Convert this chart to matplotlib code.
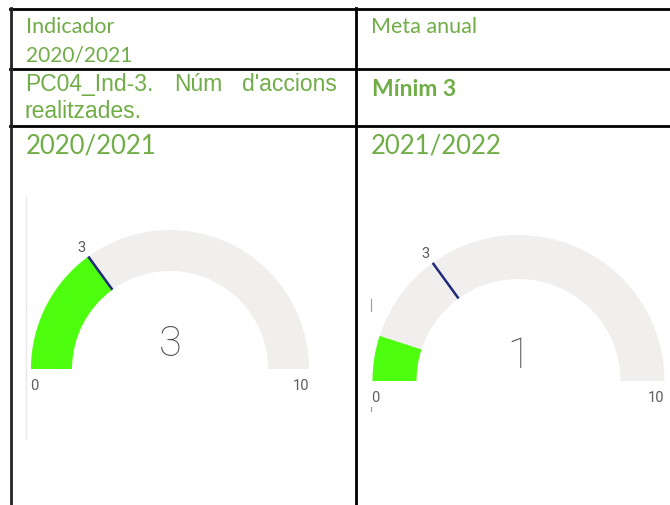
import matplotlib
matplotlib.use("Agg")
import numpy as np
import matplotlib.pyplot as plt
from matplotlib.patches import Wedge

# Table text
header_left = ["Indicador", "2020/2021"]
header_right = "Meta anual"
indicator_words = ["PC04_Ind-3.", "Núm", "d'accions"]
indicator_rest = "realitzades."
goal_text = "Mínim 3"

# Gauge data
years = ["2020/2021", "2021/2022"]
values = [3, 1]
target = 3
gauge_min = 0
gauge_max = 10

GREEN_TXT = "#70AD47"
GREEN_FILL = "#4DFF0F"
TRACK = "#F0EFEE"
NAVY = "#1F2A7A"
GREY_TXT = "#605E5C"

plt.rcParams["font.family"] = ["Lato", "DejaVu Sans"]

fig = plt.figure(figsize=(6.7, 5.06), dpi=100)
ax = fig.add_axes([0, 0, 1, 1])
ax.set_xlim(0, 670)
ax.set_ylim(506, 0)
ax.axis("off")

# table grid
lw = 2.0
ax.plot([10, 670], [10, 10], color="black", lw=lw)
ax.plot([10, 670], [69.5, 69.5], color="black", lw=lw)
ax.plot([10, 670], [126.5, 126.5], color="black", lw=lw)
ax.plot([11, 11], [9, 506], color="#222222", lw=lw)
ax.plot([356, 356], [9, 506], color="black", lw=lw)

# header texts
ax.text(26, 27, header_left[0], color=GREEN_TXT, fontsize=15.5, va="center")
ax.text(26, 55, header_left[1], color=GREEN_TXT, fontsize=15, va="center")
ax.text(371, 27, header_right, color=GREEN_TXT, fontsize=15.5, va="center")

# justified indicator line
ind_font = ["Liberation Sans", "DejaVu Sans"]
ax.text(25, 84, indicator_words[0], color=GREEN_TXT, fontsize=16.5, va="center", family=ind_font)
ax.text(198, 84, indicator_words[1], color=GREEN_TXT, fontsize=16.5, va="center", ha="center", family=ind_font)
ax.text(337, 84, indicator_words[2], color=GREEN_TXT, fontsize=16.5, va="center", ha="right", family=ind_font)
ax.text(25, 111, indicator_rest, color=GREEN_TXT, fontsize=16.5, va="center", family=ind_font)
ax.text(372, 89, goal_text, color=GREEN_TXT, fontsize=16.5, va="center", fontweight="bold")

# gauges: (cx, cy, r_out, r_in)
geoms = [(170, 370, 139, 98), (518.5, 382, 146, 102)]
heading_x = [26, 371]
gauge_font = ["Roboto", "DejaVu Sans"]

for year, val, (cx, cy, ro, ri), hx in zip(years, values, geoms, heading_x):
    ax.text(hx, 146, year, color=GREEN_TXT, fontsize=18.5, va="center")
    span = gauge_max - gauge_min
    f = (val - gauge_min) / span
    ft = (target - gauge_min) / span
    # y axis inverted: visual upper half is data angles 180..360
    ax.add_patch(Wedge((cx, cy), ro, 180, 360, width=ro - ri, facecolor=TRACK, edgecolor="none"))
    ax.add_patch(Wedge((cx, cy), ro, 180, 180 + 180 * f, width=ro - ri, facecolor=GREEN_FILL, edgecolor="none"))
    a = np.deg2rad(180 + 180 * ft)
    ax.plot([cx + ri * np.cos(a), cx + ro * np.cos(a)], [cy + ri * np.sin(a), cy + ro * np.sin(a)],
            color=NAVY, lw=1.8, solid_capstyle="butt")
    ax.text(cx + (ro + 12) * np.cos(a), cy + (ro + 12) * np.sin(a), str(target),
            color=GREY_TXT, fontsize=10.5, ha="center", va="center", family=gauge_font)
    ax.text(cx - ro - 1, cy + 16, str(gauge_min), color=GREY_TXT, fontsize=10.5, ha="left", va="center",
            family=gauge_font)
    ax.text(cx + ro, cy + 16, str(gauge_max), color=GREY_TXT, fontsize=10.5, ha="right", va="center",
            family=gauge_font)
    ax.text(cx, cy - 26, str(val), color="#505050", fontsize=30, ha="center", va="center",
            fontweight="light", family=gauge_font)

# faint left edge lines of the pasted visuals
ax.plot([26, 26], [198, 440], color="#E8E8E8", lw=1)
ax.plot([371, 371], [300, 312], color="#999999", lw=0.8)
ax.plot([371, 371], [408, 412], color="#999999", lw=0.8)

fig.savefig("out.png", dpi=100)
